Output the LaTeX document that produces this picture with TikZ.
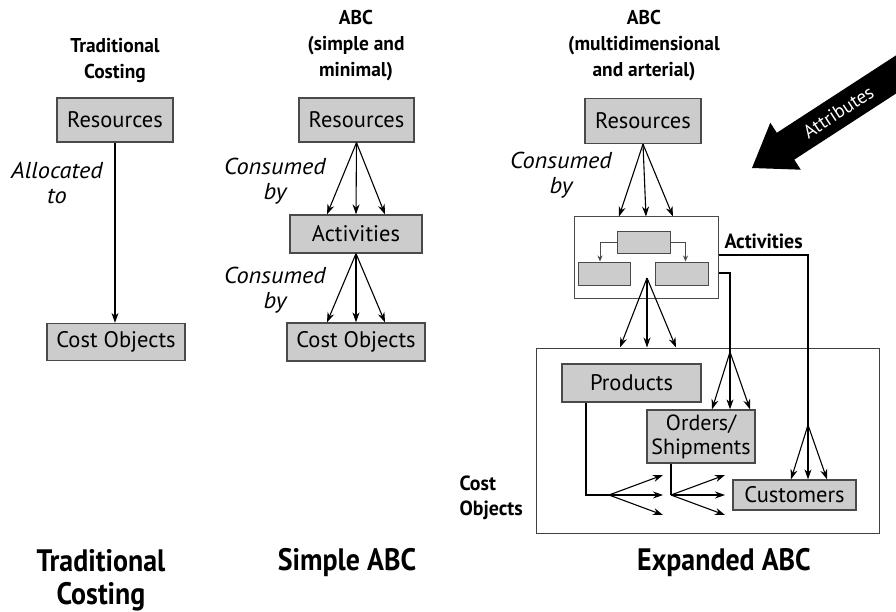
\documentclass[tikz,border=0pt]{standalone}
\usepackage{fontspec}
\setmainfont{PT Sans}
\newfontfamily\headfont[FakeStretch=0.97]{PT Sans}
\newfontfamily\bigfont[FakeStretch=0.9]{PT Sans}
\newfontfamily\notefont[FakeStretch=1.06]{PT Sans}
\usetikzlibrary{arrows.meta,calc}
\definecolor{boxfill}{HTML}{CCCCCC}
\definecolor{boxline}{HTML}{4A4A4A}
\tikzset{
  x=1pt, y=-1pt,
  box/.style={draw=boxline, fill=boxfill, line width=1.3pt, inner sep=0pt,
    font=\fontsize{22.5}{25}\selectfont},
  minibox/.style={draw=boxline, fill=boxfill, line width=1pt, inner sep=0pt},
  frame/.style={draw=black!75, line width=1pt, fill=none},
  flow/.style={line width=1.1pt, -{Stealth[length=10pt,width=7pt]}},
  plain/.style={line width=1.1pt},
  inner/.style={draw=boxline, line width=1pt, -{Stealth[length=6pt,width=5pt]}},
  head/.style={align=center, font=\headfont\bfseries\fontsize{20}{26}\selectfont},
  bighead/.style={align=center, font=\bigfont\bfseries\fontsize{31}{33}\selectfont},
  note/.style={align=center, font=\notefont\itshape\fontsize{23}{25}\selectfont},
  tag/.style={font=\headfont\bfseries\fontsize{20.5}{25}\selectfont},
}
\begin{document}
\begin{tikzpicture}
\useasboundingbox (0,0) rectangle (896,612);

% ---------- Traditional costing ----------
\node[head] (t1) at (115,61) {Traditional\\Costing};
\node[box, minimum width=116pt, minimum height=44pt] (res1) at (115,120) {Resources};
\node[box, minimum width=138pt, minimum height=37pt] (cost1) at (116,342) {Cost Objects};
\draw[flow] (res1.south) -- (res1.south |- cost1.north);
\node[note] (n1) at (57,183) {Allocated\\to};
\node[bighead] (b1) at (101,580) {Traditional\\Costing};

% ---------- Simple ABC ----------
\node[head] (t2) at (356,46) {ABC\\(simple and\\minimal)};
\node[box, minimum width=115pt, minimum height=44pt] (res2) at (356.5,120) {Resources};
\node[box, minimum width=132pt, minimum height=38pt] (act2) at (356,234) {Activities};
\node[box, minimum width=138pt, minimum height=38pt] (cost2) at (356,342) {Cost Objects};
\foreach \dx in {-29,0,29} {
  \draw[flow] (res2.south) -- ($(act2.north)+(\dx,0)$);
  \draw[flow] (act2.south) -- ($(cost2.north)+(\dx,0)$);
}
\node[note] (n2) at (275,181) {Consumed\\by};
\node[note] (n3) at (275,290) {Consumed\\by};
\node[bighead] (b2) at (347,563) {Simple ABC};

% ---------- Expanded ABC ----------
\node[head] (t3) at (644,46) {ABC\\(multidimensional\\and arterial)};
\node[box, minimum width=116pt, minimum height=45pt] (res3) at (643,121) {Resources};
\node[note] (n4) at (561,175) {Consumed\\by};

% activities group
\node[frame, fill=white, draw=boxline, minimum width=144pt, minimum height=81pt] (actbox) at (646,257.5) {};
\node[minibox, minimum width=53pt, minimum height=22pt] (atop) at (643.5,243) {};
\node[minibox, minimum width=52pt, minimum height=23pt] (aleft) at (604,273.5) {};
\node[minibox, minimum width=53pt, minimum height=23pt] (aright) at (681.5,273.5) {};
\draw[inner] (atop.west) -| ($(aleft.north)+(-4,0)$);
\draw[inner] (atop.east) -| ($(aright.north)+(4,0)$);
\node[tag, anchor=west] (actlbl) at (721,241) {Activities};

\foreach \dx in {-27,0,27}
  \draw[flow] (res3.south) -- ($(actbox.north)+(\dx,0)$);

% cost objects group
\node[frame, minimum width=343pt, minimum height=185pt] (costbox) at (707.5,440.5) {};
\node[box, minimum width=139pt, minimum height=38pt] (prod) at (631.5,383) {Products};
\node[box, minimum width=108pt, minimum height=53pt, align=center,
      font=\fontsize{22}{24}\selectfont] (orders) at (701,436.5) {Orders/\\Shipments};
\node[box, minimum width=123pt, minimum height=30pt] (cust) at (794.5,495) {Customers};
\node[tag, align=left, anchor=west] (colbl) at (456,498) {Cost\\Objects};

% activities to products
\coordinate (apA) at (647,278);
\foreach \dx in {-27,0,29}
  \draw[flow] (apA) -- ($(apA |- costbox.north)+(\dx,0)$);

% activities to orders
\coordinate (apO) at (730,352);
\draw[plain] (actbox.east |- 0,273) -- (730,273) -- (apO);
\foreach \dx in {-18,0,20}
  \draw[flow] (apO) -- ($(apO |- orders.north)+(\dx,0)$);

% activities to customers
\coordinate (apC) at (808,425);
\draw[plain] (actbox.east |- 0,255) -- (808,255) -- (apC);
\foreach \dx in {-17,0,19}
  \draw[flow] (apC) -- ($(apC |- cust.north)+(\dx,0)$);

% products to the next level
\coordinate (apP) at (609,495);
\draw[plain] (prod.south -| 586,0) -- (586,495) -- (apP);
\foreach \dy in {-20,0,20}
  \draw[flow] (apP) -- ($(apP)+(54,\dy)$);

% orders to the next level
\coordinate (apS) at (671,495);
\draw[plain] (orders.south -| apS) -- (apS);
\foreach \dy in {-20,0,20}
  \draw[flow] (apS) -- ($(apS)+(54,\dy)$);

\node[bighead] (b3) at (724,563) {Expanded ABC};

% attributes arrow
\begin{scope}
  \clip (0,0) rectangle (896,612);
  \begin{scope}[shift={(752,168)}, rotate=33]
    \fill[black] (0,0) -- (40,-28) -- (40,-16) -- (200,-16) -- (200,16)
      -- (40,16) -- (40,28) -- cycle;
    \node[text=white, font=\fontsize{19}{20}\selectfont, rotate=33, inner sep=0pt] (attr) at (103,0) {Attributes};
  \end{scope}
\end{scope}
\end{tikzpicture}
\end{document}
